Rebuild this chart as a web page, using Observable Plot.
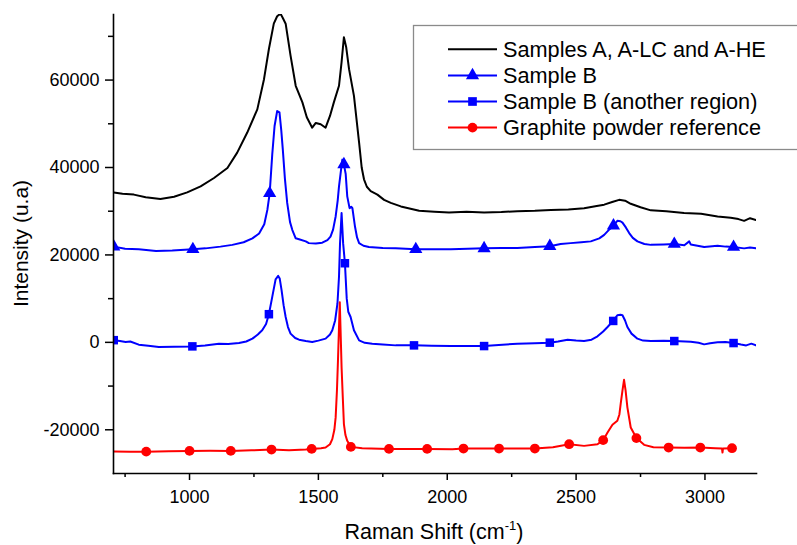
<!DOCTYPE html>
<html>
<head>
<meta charset="utf-8">
<script src="https://cdn.jsdelivr.net/npm/d3@7"></script>
<script src="https://cdn.jsdelivr.net/npm/@observablehq/plot@0.6"></script>
<style>
  html, body { margin: 0; padding: 0; background: #fff; }
  #chart { width: 797px; height: 545px; }
  #chart svg { overflow: visible; }
</style>
</head>
<body>
<div id="chart"></div>
<script>
// Raman spectra, offset vertically for comparison.

// Samples A, A-LC and A-HE
const shiftA = [706, 740, 784, 830, 887, 940, 991, 1043, 1095, 1147, 1185, 1224, 1263, 1289, 1308, 1327, 1340, 1353, 1362, 1373, 1392, 1412, 1438, 1455, 1476, 1490, 1509, 1528, 1545, 1560, 1580, 1590, 1599, 1608, 1619, 1638, 1658, 1668, 1677, 1688, 1703, 1729, 1755, 1781, 1820, 1891, 1950, 2007, 2075, 2143, 2210, 2272, 2340, 2402, 2470, 2531, 2580, 2609, 2640, 2667, 2690, 2712, 2750, 2790, 2850, 2919, 2985, 3049, 3100, 3130, 3152, 3175, 3198];
const intensityA = [34300, 34000, 33800, 33200, 32800, 33300, 34300, 35700, 37600, 39900, 43400, 48000, 53300, 60200, 67100, 72900, 74600, 75200, 74200, 72900, 65600, 58700, 54900, 51500, 49100, 50200, 49900, 49100, 51800, 54900, 58700, 64100, 69800, 67500, 62500, 56400, 45700, 40000, 37300, 35600, 34600, 33800, 32600, 31900, 31100, 30100, 29900, 29700, 29900, 29700, 29800, 30000, 30100, 30300, 30400, 30700, 31200, 31500, 32100, 32600, 32400, 31700, 30900, 30200, 30000, 29600, 29400, 28800, 28500, 28200, 27800, 28400, 28000];

// Sample B
const shiftB = [706, 750, 803, 870, 933, 1013, 1062, 1120, 1166, 1210, 1244, 1270, 1290, 1302, 1311, 1321, 1330, 1340, 1349, 1356, 1362, 1370, 1379, 1390, 1399, 1412, 1425, 1451, 1463, 1490, 1515, 1535, 1547, 1557, 1567, 1575, 1580, 1588, 1593, 1599, 1606, 1612, 1621, 1628, 1632, 1642, 1650, 1658, 1675, 1696, 1750, 1800, 1878, 1929, 2014, 2080, 2143, 2210, 2272, 2340, 2398, 2440, 2479, 2520, 2557, 2590, 2609, 2630, 2645, 2660, 2672, 2680, 2693, 2706, 2720, 2738, 2765, 2790, 2840, 2881, 2920, 2939, 2945, 2997, 3049, 3080, 3111, 3152, 3175, 3198];
const intensityB = [21900, 21400, 21300, 20900, 21000, 21300, 21500, 21900, 22300, 22900, 23800, 24900, 27000, 30300, 34100, 43000, 49500, 52900, 52600, 48500, 44100, 37500, 31900, 27500, 25700, 23800, 23600, 23100, 22700, 22600, 22800, 23400, 24200, 25800, 28800, 32500, 35700, 39500, 41800, 40700, 38500, 33400, 30700, 31000, 30700, 26500, 24000, 22700, 22100, 21800, 21600, 21500, 21300, 21300, 21300, 21400, 21500, 21600, 21600, 21800, 22000, 22500, 22700, 22900, 23100, 23800, 24600, 25900, 26700, 27800, 27700, 27400, 26300, 25000, 23900, 23100, 22500, 22300, 22400, 22500, 22200, 23100, 22400, 21800, 22100, 21900, 21800, 21500, 21700, 21500];
const markShiftB = [706, 1013, 1311, 1599, 1878, 2143, 2398, 2645, 2881, 3111];
const markIntensityB = [21900, 21300, 34100, 40700, 21300, 21500, 22000, 26700, 22500, 21800];

// Sample B (another region)
const shiftB2 = [706, 730, 752, 770, 803, 840, 881, 940, 1011, 1060, 1114, 1150, 1192, 1220, 1244, 1265, 1282, 1297, 1308, 1321, 1334, 1344, 1350, 1357, 1365, 1373, 1382, 1392, 1410, 1425, 1451, 1476, 1500, 1528, 1545, 1554, 1565, 1574, 1580, 1584, 1590, 1596, 1603, 1610, 1616, 1625, 1638, 1658, 1680, 1709, 1750, 1800, 1871, 1940, 2014, 2143, 2200, 2272, 2340, 2398, 2430, 2467, 2500, 2531, 2560, 2583, 2605, 2622, 2644, 2660, 2672, 2680, 2690, 2699, 2715, 2738, 2760, 2790, 2840, 2881, 2945, 2975, 2997, 3020, 3049, 3080, 3111, 3140, 3160, 3180, 3198];
const intensityB2 = [500, 300, 70, 200, -530, -800, -1080, -1000, -920, -700, -300, -400, -160, 200, 850, 1800, 2760, 4200, 6440, 10400, 14400, 15200, 14600, 12000, 8500, 5800, 3500, 2000, 1000, 620, 300, 70, 400, 850, 1800, 2760, 5000, 8900, 15000, 22700, 29600, 22700, 18100, 10000, 7000, 5800, 2760, 460, -100, -300, -500, -690, -690, -800, -850, -850, -600, -300, -200, -70, 200, 620, 400, 300, 600, 1380, 2500, 3520, 4900, 6200, 6300, 6200, 5000, 3520, 2000, 850, 400, 300, 350, 300, 160, -100, -460, -200, 0, 100, -160, -500, -700, -300, -690];
const markShiftB2 = [706, 1011, 1308, 1603, 1871, 2143, 2398, 2644, 2881, 3111];
const markIntensityB2 = [500, -920, 6440, 18100, -690, -850, -70, 4900, 300, -160];

// Graphite powder reference
const shiftG = [706, 770, 832, 920, 1000, 1080, 1160, 1240, 1318, 1386, 1451, 1474, 1510, 1528, 1545, 1554, 1562, 1567, 1572, 1576, 1583, 1586, 1590, 1595, 1599, 1605, 1612, 1626, 1670, 1774, 1922, 2020, 2063, 2201, 2340, 2410, 2473, 2531, 2583, 2605, 2622, 2641, 2660, 2668, 2673, 2680, 2686, 2692, 2699, 2712, 2734, 2764, 2800, 2859, 2920, 2982, 3040, 3066, 3068, 3070, 3105];
const intensityG = [-24990, -25000, -25000, -24900, -24830, -24800, -24830, -24700, -24530, -24670, -24530, -24370, -24200, -24070, -23300, -22140, -20000, -17170, -11000, -4140, 9200, 3000, -5680, -13000, -18690, -21200, -22530, -23910, -24210, -24370, -24370, -24450, -24290, -24290, -24290, -24000, -23300, -23680, -23300, -22370, -20620, -18850, -17930, -16500, -14090, -11000, -8580, -11000, -14870, -19470, -21900, -23450, -24000, -24070, -24100, -24070, -24200, -24300, -25200, -24300, -24210];
const markShiftG = [832, 1000, 1160, 1318, 1474, 1626, 1774, 1922, 2063, 2201, 2340, 2473, 2605, 2734, 2859, 2982, 3105];
const markIntensityG = [-25000, -24830, -24830, -24530, -24370, -23910, -24370, -24370, -24290, -24290, -24290, -23300, -22370, -21900, -24070, -24070, -24210];

// Axis ticks
const xMajor = [1000, 1500, 2000, 2500, 3000];
const xMinor = [750, 1250, 1750, 2250, 2750];
const yMajor = [-20000, 0, 20000, 40000, 60000];
const yMinor = [-10000, 10000, 30000, 50000, 70000];

// Legend entries
const legendLabels = ["Samples A, A-LC and A-HE", "Sample B", "Sample B (another region)", "Graphite powder reference"];
const legendColors = ["#000000", "#0000ff", "#0000ff", "#ff0000"];
const legendSymbols = [null, "triangle", "square", "circle"];

const toRows = (xs, ys) => xs.map((x, i) => ({shift: x, intensity: ys[i]}));
const seriesA = toRows(shiftA, intensityA);
const seriesB = toRows(shiftB, intensityB);
const seriesB2 = toRows(shiftB2, intensityB2);
const seriesG = toRows(shiftG, intensityG);
const marksB = toRows(markShiftB, markIntensityB);
const marksB2 = toRows(markShiftB2, markIntensityB2);
const marksG = toRows(markShiftG, markIntensityG);

const FONT = "'Liberation Sans', Arial, Helvetica, sans-serif";
const lineOpts = {x: "shift", y: "intensity", strokeWidth: 2, clip: true, strokeLinejoin: "round"};

const chart = Plot.plot({
  width: 797,
  height: 545,
  marginLeft: 113,
  marginRight: 41,
  marginTop: 14,
  marginBottom: 72,
  style: {fontFamily: FONT, fontSize: "18px", color: "#000", background: "#fff"},
  x: {domain: [705, 3200], label: null},
  y: {domain: [-30000, 75000], label: null},
  marks: [
    Plot.axisX({ticks: xMajor, tickSize: 7, tickPadding: 10, tickFormat: d => String(d), label: null, fontSize: 18, strokeWidth: 1.5}),
    Plot.axisX({ticks: xMinor, tickSize: 4, tickFormat: () => "", label: null, strokeWidth: 1.5}),
    Plot.axisY({ticks: yMajor, tickSize: 8, tickPadding: 6, tickFormat: d => String(d), label: null, fontSize: 18, strokeWidth: 1.5}),
    Plot.axisY({ticks: yMinor, tickSize: 5, tickFormat: () => "", label: null, strokeWidth: 1.5}),
    Plot.line(seriesA, {...lineOpts, stroke: "#000000"}),
    Plot.line(seriesB, {...lineOpts, stroke: "#0000ff"}),
    Plot.dot(marksB, {x: "shift", y: "intensity", symbol: "triangle", r: 4.9, fill: "#0000ff", clip: true}),
    Plot.line(seriesB2, {...lineOpts, stroke: "#0000ff"}),
    Plot.dot(marksB2, {x: "shift", y: "intensity", symbol: "square", r: 4.8, fill: "#0000ff", clip: true}),
    Plot.line(seriesG, {...lineOpts, stroke: "#ff0000"}),
    Plot.dot(marksG, {x: "shift", y: "intensity", symbol: "circle", r: 4.9, fill: "#ff0000", clip: true}),
    Plot.frame({anchor: "left", stroke: "#000", strokeWidth: 1.6}),
    Plot.frame({anchor: "bottom", stroke: "#000", strokeWidth: 1.6})
  ]
});

document.getElementById("chart").appendChild(chart);

const svg = d3.select(chart);

// Axis titles
svg.append("text")
  .attr("transform", "translate(28,243.5) rotate(-90)")
  .attr("text-anchor", "middle")
  .attr("font-family", FONT)
  .attr("font-size", 21)
  .attr("fill", "#000")
  .text("Intensity (u.a)");

const xTitle = svg.append("text")
  .attr("x", 434)
  .attr("y", 539)
  .attr("text-anchor", "middle")
  .attr("font-family", FONT)
  .attr("font-size", 21.5)
  .attr("fill", "#000");
xTitle.append("tspan").text("Raman Shift (cm");
xTitle.append("tspan").attr("font-size", 13).attr("dy", -9).text("-1");
xTitle.append("tspan").attr("dy", 9).text(")");

// Legend
const lg = svg.append("g").attr("text-anchor", "start");
lg.append("rect")
  .attr("x", 413.5).attr("y", 25.5)
  .attr("width", 400).attr("height", 124)
  .attr("fill", "#fff")
  .attr("stroke", "#8a8a8a")
  .attr("stroke-width", 1.3);

const symbolTypes = {triangle: d3.symbolTriangle, square: d3.symbolSquare, circle: d3.symbolCircle};
legendLabels.forEach((label, i) => {
  const cy = 49.3 + i * 26.1;
  lg.append("line")
    .attr("x1", 448).attr("x2", 497)
    .attr("y1", cy).attr("y2", cy)
    .attr("stroke", legendColors[i])
    .attr("stroke-width", 2);
  if (legendSymbols[i]) {
    lg.append("path")
      .attr("transform", `translate(472.5,${cy})`)
      .attr("d", d3.symbol(symbolTypes[legendSymbols[i]], Math.PI * 4.9 * 4.9)())
      .attr("fill", legendColors[i]);
  }
  lg.append("text")
    .attr("x", 503)
    .attr("y", cy + 7.5)
    .attr("text-anchor", "start")
    .attr("font-family", FONT)
    .attr("font-size", 21.7)
    .attr("fill", "#000")
    .text(label);
});
</script>
</body>
</html>
